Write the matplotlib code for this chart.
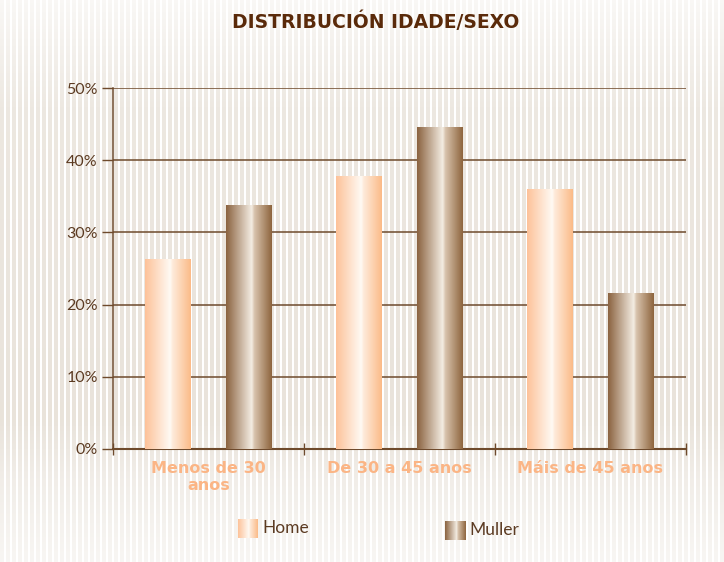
import matplotlib
matplotlib.use("Agg")
import matplotlib.pyplot as plt
import numpy as np
from matplotlib.colors import LinearSegmentedColormap

# data
categories = ["Menos de 30\nanos", "De 30 a 45 anos", "Máis de 45 anos"]
home = [26.2, 37.7, 36.0]
muller = [33.7, 44.6, 21.6]
series_names = ["Home", "Muller"]
yticks = [0, 10, 20, 30, 40, 50]

brown = "#6e4a2c"
title_col = "#5a2a0a"
label_col = "#fbb585"

home_cmap = LinearSegmentedColormap.from_list(
    "home", [(0, "#fdc299"), (0.55, "#fffaf4"), (0.6, "#feebdb"), (1, "#fbbb88")])
muller_cmap = LinearSegmentedColormap.from_list(
    "muller", [(0, "#8b6340"), (0.56, "#f4ede3"), (0.62, "#d8c3ad"), (1, "#8e653e")])

fig = plt.figure(figsize=(7.24, 5.62), dpi=100)
fig.patch.set_facecolor("white")

# striped background
H, W = 562, 724
cols = np.arange(W)
stripe = ((cols % 6) < 4).astype(float)
rows = np.arange(H)
fade = np.interp(rows, [0, 110, 420, 480, 562], [0.25, 0.8, 0.95, 0.6, 0.3])
alpha = fade[:, None] * stripe[None, :]
base = np.array([0.91, 0.885, 0.85])
bg = np.ones((H, W, 3)) * (1 - alpha[..., None]) + base * alpha[..., None]
fig.figimage(bg, xo=0, yo=0, origin="upper", zorder=-10)

ax = fig.add_axes([0.1561, 0.2011, 0.7914, 0.6423])
ax.patch.set_alpha(0)

x = np.arange(len(categories)) + 0.5
w = 0.236
bars_h = ax.bar(x - 0.213, home, w, color="none", zorder=3)
bars_m = ax.bar(x + 0.212, muller, w, color="none", zorder=3)

grad = np.linspace(0, 1, 200)[None, :]
for bars, cmap in [(bars_h, home_cmap), (bars_m, muller_cmap)]:
    for b in bars:
        ax.imshow(grad, cmap=cmap, aspect="auto", zorder=3,
                  extent=(b.get_x(), b.get_x() + b.get_width(), 0, b.get_height()))

ax.set_xlim(0, 3)
ax.set_ylim(0, 50)
ax.set_yticks(yticks)
ax.set_yticklabels([f"{v}%" for v in yticks], fontsize=11.5, color="#5c3b22",
                   fontfamily="Lato")
for v in yticks[1:]:
    ax.axhline(v, color=brown, lw=1.1, zorder=2)

ax.set_xticks([0, 1, 2, 3])
ax.set_xticklabels([])
ax.set_xticks(x, minor=True)
ax.set_xticklabels(categories, minor=True, fontsize=11.5, fontweight="bold",
                   color=label_col, linespacing=1.1, fontfamily="DejaVu Sans")
ax.tick_params(axis="x", which="minor", length=0, pad=9)
ax.tick_params(axis="x", which="major", direction="inout", length=8, color=brown, width=1)
ax.tick_params(axis="y", length=8, color=brown, width=1, pad=3)

for s in ["top", "right"]:
    ax.spines[s].set_visible(False)
ax.spines["left"].set_color(brown)
ax.spines["bottom"].set_color(brown)
ax.spines["left"].set_linewidth(1.1)
ax.spines["bottom"].set_linewidth(1.5)

fig.text(0.519, 0.961, "DISTRIBUCIÓN IDADE/SEXO", ha="center", va="center",
         fontsize=13.5, fontweight="heavy", color=title_col,
         fontfamily="DejaVu Sans")

# legend drawn by hand with gradient swatches
leg = [(238, 528, home_cmap), (445, 530, muller_cmap)]
for name, (lx, ly, cmap) in zip(series_names, leg):
    sw = fig.add_axes([lx / W, 1 - (ly + 10) / H, 20 / W, 19 / H])
    sw.imshow(grad, cmap=cmap, aspect="auto")
    sw.set_axis_off()
    fig.text((lx + 24) / W, 1 - ly / H, name, ha="left", va="center",
             fontsize=12.5, color="#5c3b22", fontfamily="Lato")

fig.savefig("out.png", dpi=100)
